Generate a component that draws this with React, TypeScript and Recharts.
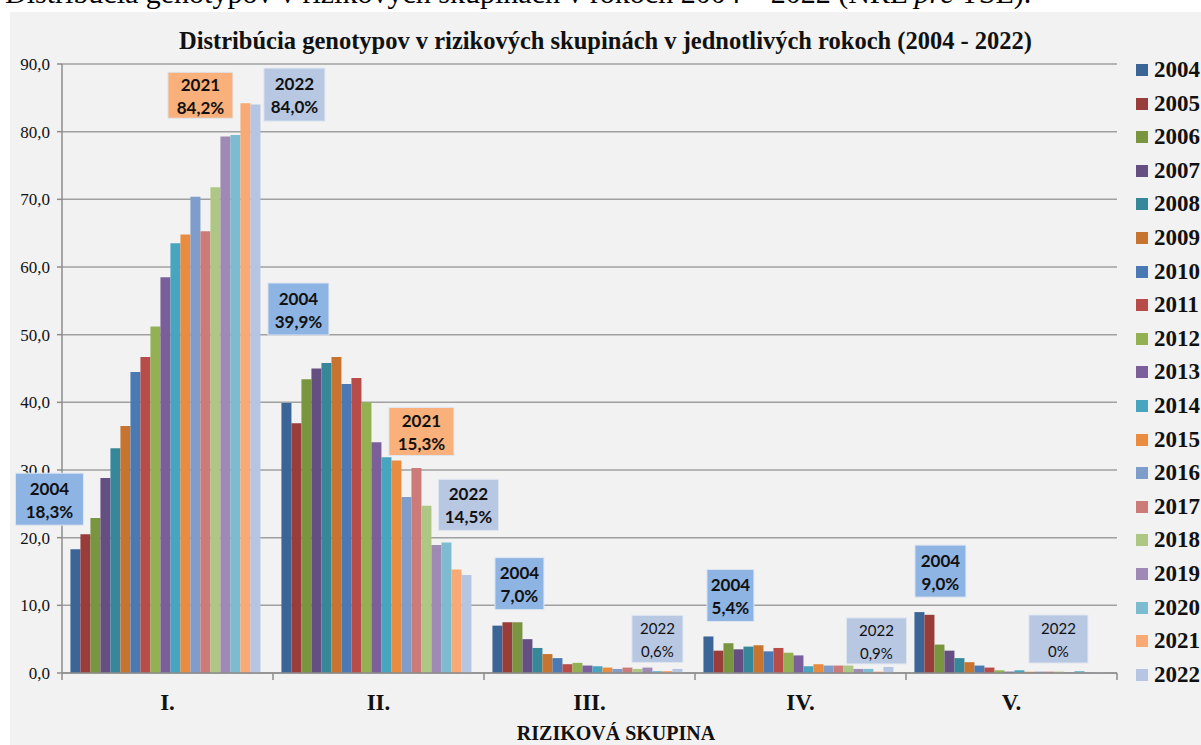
// App.tsx
import React from 'react';
import {
  BarChart,
  Bar,
  XAxis,
  YAxis,
  CartesianGrid,
  LabelList
} from 'recharts';

const CATEGORIES = ['I.', 'II.', 'III.', 'IV.', 'V.'];

const YEARS = [
  '2004', '2005', '2006', '2007', '2008', '2009', '2010', '2011', '2012', '2013',
  '2014', '2015', '2016', '2017', '2018', '2019', '2020', '2021', '2022'
];

// hodnoty v % pre každú rizikovú skupinu, v poradí rokov 2004 - 2022
const GROUP_I = [18.3, 20.5, 22.9, 28.8, 33.2, 36.5, 44.5, 46.7, 51.2, 58.5, 63.5, 64.8, 70.4, 65.3, 71.8, 79.3, 79.5, 84.2, 84.0];
const GROUP_II = [39.9, 36.9, 43.4, 45.0, 45.8, 46.7, 42.7, 43.6, 40.0, 34.1, 31.9, 31.4, 26.0, 30.3, 24.7, 18.9, 19.3, 15.3, 14.5];
const GROUP_III = [7.0, 7.5, 7.5, 5.0, 3.7, 2.8, 2.2, 1.3, 1.5, 1.1, 1.0, 0.8, 0.6, 0.8, 0.6, 0.8, 0.3, 0.3, 0.6];
const GROUP_IV = [5.4, 3.3, 4.4, 3.5, 3.9, 4.1, 3.2, 3.7, 3.0, 2.6, 1.0, 1.3, 1.1, 1.1, 1.1, 0.6, 0.6, 0.2, 0.9];
const GROUP_V = [9.0, 8.6, 4.2, 3.3, 2.2, 1.6, 1.1, 0.8, 0.4, 0.2, 0.4, 0.2, 0.2, 0.2, 0.2, 0.1, 0.3, 0.0, 0.0];

const GROUPS = [GROUP_I, GROUP_II, GROUP_III, GROUP_IV, GROUP_V];

const Y_TICKS = [0, 10, 20, 30, 40, 50, 60, 70, 80, 90];

const COLORS = [
  '#3b6597', '#993d3b', '#7a953f', '#654e82', '#37879a', '#c6742f', '#4a79b4',
  '#b84c49', '#93b152', '#7a5f9b', '#47a5c0', '#ea8c40', '#7f9dca', '#cd7b79',
  '#afc784', '#9e8ab5', '#7dbbd0', '#f8a974', '#b6c5e1'
];

// popisky (rok + hodnota) pri vybraných stĺpcoch
const CALLOUTS = [
  { year: '2004', cat: 0, dx: -26, dy: -50, w: 68, h: 52, fill: '#8eb4e3', bold: true },
  { year: '2021', cat: 0, dx: -45, dy: -8, w: 65, h: 46, fill: '#fab07a', bold: true },
  { year: '2022', cat: 0, dx: 39, dy: -10, w: 61, h: 53, fill: '#b8c7e2', bold: true },
  { year: '2004', cat: 1, dx: 12, dy: -94, w: 61, h: 52, fill: '#8eb4e3', bold: true },
  { year: '2021', cat: 1, dx: -35, dy: -138, w: 65, h: 48, fill: '#fab07a', bold: true },
  { year: '2022', cat: 1, dx: 2, dy: -70, w: 60, h: 51, fill: '#b8c7e2', bold: true },
  { year: '2004', cat: 2, dx: 22, dy: -42, w: 49, h: 52, fill: '#8eb4e3', bold: true },
  { year: '2022', cat: 2, dx: -20, dy: -30, w: 51, h: 47, fill: '#b8c7e2', bold: false },
  { year: '2004', cat: 3, dx: 22, dy: -41, w: 47, h: 52, fill: '#8eb4e3', bold: true },
  { year: '2022', cat: 3, dx: -12, dy: -26, w: 60, h: 46, fill: '#b8c7e2', bold: false },
  { year: '2004', cat: 4, dx: 21, dy: -41, w: 51, h: 52, fill: '#8eb4e3', bold: true },
  { year: '2022', cat: 4, dx: -41, dy: -33, w: 59, h: 48, fill: '#b8c7e2', bold: false }
];

const chartData = CATEGORIES.map((name, ci) => ({
  name,
  ...Object.fromEntries(YEARS.map((y, yi) => [y, GROUPS[ci][yi]]))
}));

const CHART_W = 1191;
const CHART_H = 733;
const MARGIN = { top: 52, right: 84, left: 0, bottom: 0 };
const Y_AXIS_W = 52;
const BAND = (CHART_W - MARGIN.left - MARGIN.right - Y_AXIS_W) / CATEGORIES.length;

const fmtAxis = (v: number) => v.toFixed(1).replace('.', ',');
const fmtPct = (v: number) => (v === 0 ? '0%' : v.toFixed(1).replace('.', ',') + '%');

const makeCallout = (year: string) => (props: any) => {
  const { x, y, width, value, index } = props;
  const c = CALLOUTS.find(a => a.year === year && a.cat === index);
  if (!c) return null;
  const cx = Number(x) + Number(width) / 2 + c.dx;
  const cy = Number(y) + c.dy;
  const fontSize = c.bold ? 17 : 15;
  return (
    <g>
      <rect x={cx - c.w / 2} y={cy - c.h / 2} width={c.w} height={c.h} fill={c.fill} stroke="#dfe6f0" strokeWidth={1} />
      <text
        x={cx}
        y={cy - 11}
        textAnchor="middle"
        dominantBaseline="central"
        fontFamily="Lato, 'Open Sans', sans-serif"
        fontWeight={c.bold ? 700 : 400}
        fontSize={fontSize}
        fill="#111"
      >
        {year}
      </text>
      <text
        x={cx}
        y={cy + 12}
        textAnchor="middle"
        dominantBaseline="central"
        fontFamily="Lato, 'Open Sans', sans-serif"
        fontWeight={c.bold ? 700 : 400}
        fontSize={fontSize}
        fill="#111"
      >
        {fmtPct(Number(value))}
      </text>
    </g>
  );
};

const CategoryTick = (props: any) => {
  const { x, y, payload, index } = props;
  return (
    <g>
      <line x1={x - BAND / 2} y1={y} x2={x - BAND / 2} y2={y + 7} stroke="#8c8c8c" strokeWidth={1.5} />
      {index === CATEGORIES.length - 1 && (
        <line x1={x + BAND / 2} y1={y} x2={x + BAND / 2} y2={y + 7} stroke="#8c8c8c" strokeWidth={1.5} />
      )}
      <text
        x={x}
        y={y + 29}
        textAnchor="middle"
        dominantBaseline="central"
        fontFamily="'Liberation Serif', serif"
        fontWeight={700}
        fontSize={23}
        fill="#111"
      >
        {payload.value}
      </text>
    </g>
  );
};

export default function App() {
  return (
    <div style={{ position: 'fixed', left: 0, top: 0, width: 1201, height: 745, overflow: 'hidden', background: '#fff' }}>
      <div style={{ position: 'absolute', left: 0, top: 0, width: 1201, height: 12, overflow: 'hidden' }}>
        <div
          style={{
            position: 'absolute',
            left: 5,
            top: -22,
            whiteSpace: 'nowrap',
            fontFamily: "'Liberation Serif', serif",
            fontSize: 30,
            lineHeight: '30px',
            color: '#000'
          }}
        >
          Distribúcia genotypov v rizikových skupinách v rokoch 2004 – 2022 (NRL <i>pre</i> TSE).
        </div>
      </div>

      <div style={{ position: 'absolute', left: 10, top: 12, width: CHART_W, height: CHART_H, background: '#f2f2f2' }}>
        <div
          style={{
            position: 'absolute',
            left: 0,
            width: CHART_W,
            top: 15,
            textAlign: 'center',
            fontFamily: "'Liberation Serif', serif",
            fontWeight: 700,
            fontSize: 24.5,
            lineHeight: '28px',
            color: '#111'
          }}
        >
          Distribúcia genotypov v rizikových skupinách v jednotlivých rokoch (2004 - 2022)
        </div>

        <BarChart
          width={CHART_W}
          height={CHART_H}
          data={chartData}
          margin={MARGIN}
          barCategoryGap="4%"
          barGap={0}
        >
          <CartesianGrid vertical={false} stroke="#a0a0a0" strokeWidth={1.5} />
          <XAxis
            dataKey="name"
            height={72}
            tickLine={false}
            tickSize={0}
            tickMargin={0}
            stroke="#8c8c8c"
            strokeWidth={1.5}
            interval={0}
            tick={<CategoryTick />}
          />
          <YAxis
            width={Y_AXIS_W}
            domain={[0, 90]}
            ticks={Y_TICKS}
            tickFormatter={fmtAxis}
            tickSize={5}
            tickMargin={7}
            stroke="#8c8c8c"
            strokeWidth={1.5}
            tick={{ fontFamily: "'Liberation Serif', serif", fontSize: 17, fill: '#111' }}
          />
          {YEARS.map((year, i) => (
            <Bar
              key={year}
              dataKey={year}
              fill={COLORS[i]}
              minPointSize={year === '2022' ? 1 : 0}
              isAnimationActive={false}
            >
              {CALLOUTS.some(c => c.year === year) && (
                <LabelList dataKey={year} content={makeCallout(year)} />
              )}
            </Bar>
          ))}
        </BarChart>

        <div
          style={{
            position: 'absolute',
            left: 0,
            width: 1212,
            top: 709,
            textAlign: 'center',
            fontFamily: "'Liberation Serif', serif",
            fontWeight: 700,
            fontSize: 20,
            lineHeight: '24px',
            color: '#111'
          }}
        >
          RIZIKOVÁ SKUPINA
        </div>

        {YEARS.map((year, i) => (
          <div
            key={year}
            style={{
              position: 'absolute',
              left: 1126,
              top: 58 + i * 33.6 - 13,
              height: 26,
              display: 'flex',
              alignItems: 'center',
              whiteSpace: 'nowrap'
            }}
          >
            <span style={{ display: 'inline-block', width: 12, height: 12, background: COLORS[i], marginRight: 6 }} />
            <span
              style={{
                fontFamily: "'Liberation Serif', serif",
                fontWeight: 700,
                fontSize: 23,
                color: '#111'
              }}
            >
              {year}
            </span>
          </div>
        ))}
      </div>
    </div>
  );
}
